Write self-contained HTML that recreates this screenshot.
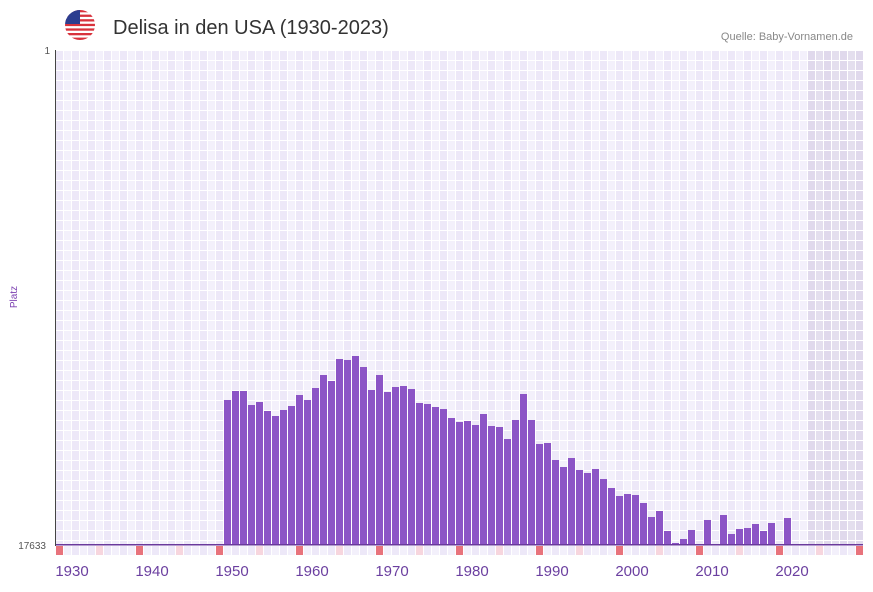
<!DOCTYPE html>
<html><head><meta charset="utf-8"><style>
body{margin:0;background:#fff;font-family:"Liberation Sans",sans-serif}
</style></head><body>
<svg id="s" width="873" height="587" xmlns="http://www.w3.org/2000/svg" font-family="Liberation Sans, sans-serif">
<defs><clipPath id="fc"><circle cx="80" cy="25" r="15"/></clipPath></defs>
<g clip-path="url(#fc)">
<rect x="65" y="10" width="30" height="30" fill="#fff"/>
<g fill="#d8323c">
<rect x="65" y="10" width="30" height="2.3"/><rect x="65" y="14.6" width="30" height="2.3"/><rect x="65" y="19.2" width="30" height="2.3"/><rect x="65" y="23.8" width="30" height="2.3"/><rect x="65" y="28.4" width="30" height="2.3"/><rect x="65" y="33" width="30" height="2.3"/><rect x="65" y="37.6" width="30" height="2.4"/></g>
<rect x="65" y="10" width="15" height="14" fill="#2c3d8f"/>
</g>
<text x="113" y="34" font-size="20" fill="#333">Delisa in den USA (1930-2023)</text>
<text x="853" y="40" font-size="11" fill="#888" text-anchor="end">Quelle: Baby-Vornamen.de</text>
<g id="plot"></g>
<text x="50" y="54" font-size="10" fill="#555" text-anchor="end">1</text>
<text x="46" y="549" font-size="10" fill="#555" text-anchor="end">17633</text>
<text transform="translate(17,297) rotate(-90)" font-size="10" fill="#7b3fb0" text-anchor="middle">Platz</text>
</svg>
<script>
var g=document.getElementById('plot'),h='';
function r(x,y,w,hh,f){h+='<rect x="'+x+'" y="'+y+'" width="'+w+'" height="'+hh+'" fill="'+f+'"/>';}
for(var i=0;i<101;i++){var x=56+i*8;var y=1928+i;
 r(x,50,8,495,(i%2)?'#f3f0fb':'#ede8f8');
 if(y>=2022) r(x,50,8,495,'rgba(190,180,205,0.28)');
 if(y%10==8) r(x,546,7,9,'#e8737c'); else if(y%10==3) r(x,546,7,9,'#f7d6de'); else r(x,546,7,9,(i%2)?'#f3f0fb':'#ede8f8');
}
for(var i=0;i<=101;i++){r(56+i*8-1,50,1,495,'#fff');}
for(var j=0;j<50;j++){r(56,50+j*10,807,1,'#fff');}
for(var i=0;i<=101;i++){r(56+i*8-1,546,1,9,'#fff');}
var d={1949:400,1950:391,1951:391,1952:405,1953:402,1954:411,1955:416,1956:410,1957:406,1958:395,1959:400,1960:388,1961:375,1962:381,1963:359,1964:360,1965:356,1966:367,1967:390,1968:375,1969:392,1970:387,1971:386,1972:389,1973:403,1974:404,1975:407,1976:409,1977:418,1978:422,1979:421,1980:425,1981:414,1982:426,1983:427,1984:439,1985:420,1986:394,1987:420,1988:444,1989:443,1990:460,1991:467,1992:458,1993:470,1994:473,1995:469,1996:479,1997:488,1998:496,1999:494,2000:495,2001:503,2002:517,2003:511,2004:531,2005:543,2006:539,2007:530,2009:520,2011:515,2012:534,2013:529,2014:528,2015:524,2016:531,2017:523,2019:518};
for(var k in d){var x=56+(k-1928)*8;r(x,d[k],7,545-d[k],'#8c55c6');}
r(56,544,807,1.5,'#6a3a9c');
r(55,50,1,496,'#444');
for(var y=1930;y<=2020;y+=10){var x=56+(y-1928)*8;h+='<text x="'+x+'" y="576" font-size="15" fill="#6b3fa0" text-anchor="middle">'+y+'</text>';}
g.innerHTML=h;
</script>
</body></html>
